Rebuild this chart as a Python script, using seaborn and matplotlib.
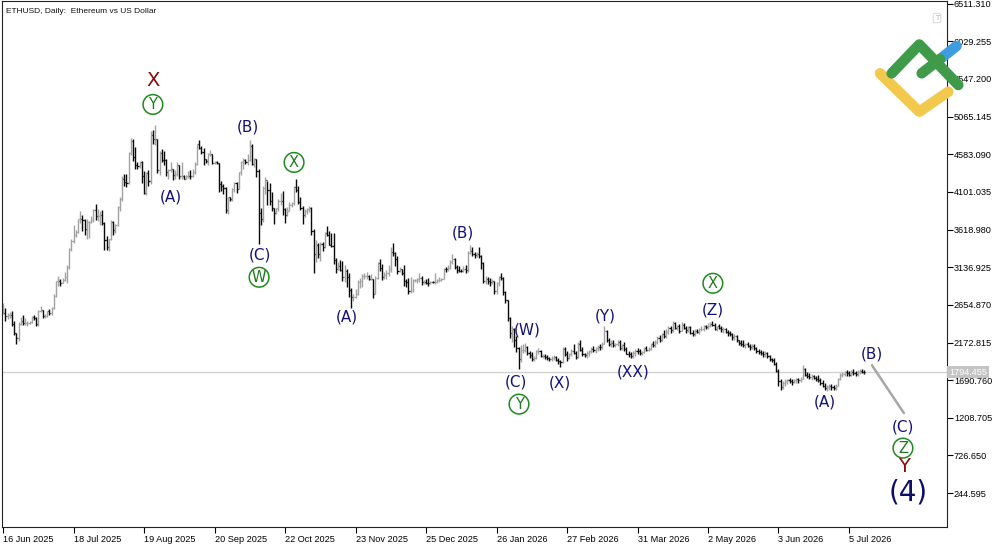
import numpy as np
import pandas as pd
import matplotlib
matplotlib.use("Agg")
import matplotlib.pyplot as plt
import matplotlib.dates as mdates
import matplotlib.transforms as mtransforms
import seaborn as sns

# ---------------- data (daily OHLC of ETHUSD) ----------------
start_date = "2025-06-16"
first_open = 2545

high = [
    2680, 2610, 2545, 2560, 2580, 2450, 2300, 2440, 2500, 2520, 2490, 2450, 2450, 2510, 2525,  # Jun 2025
    2495, 2590, 2640, 2595, 2540, 2580, 2600, 2630, 2790, 2960, 3020, 2980, 3000, 3080, 3160, 3380, 3500, 3680, 3610, 3760, 3860, 3800, 3760, 3760, 3730, 3790, 3880, 3940, 3880, 3860, 3870,  # Jul
    3720, 3530, 3500, 3740, 3730, 3690, 3920, 4030, 4300, 4330, 4330, 4610, 4790, 4780, 4680, 4480, 4500, 4490, 4370, 4350, 4380, 4880, 4890, 4955, 4780, 4620, 4650, 4630, 4520, 4390, 4480,  # Aug
    4400, 4380, 4480, 4450, 4480, 4320, 4320, 4370, 4380, 4400, 4480, 4720, 4770, 4690, 4660, 4520, 4600, 4640, 4590, 4490, 4490, 4470, 4240, 4200, 4160, 4040, 4030, 4150, 4230, 4230,  # Sep
    4360, 4500, 4540, 4520, 4590, 4760, 4720, 4530, 4520, 4390, 3900, 4180, 4290, 4240, 4210, 4100, 3900, 3900, 4010, 4090, 4110, 3900, 3910, 3970, 3970, 4170, 4270, 4180, 4040, 3920, 3880,  # Oct
    3890, 3920, 3910, 3620, 3480, 3450, 3460, 3460, 3590, 3660, 3600, 3570, 3570, 3260, 3200, 3230, 3220, 3160, 3110, 3060, 2870, 2790, 2860, 2970, 3000, 3050, 3060, 3070, 3040, 3050,  # Nov
    2990, 3020, 3200, 3240, 3180, 3070, 3100, 3160, 3400, 3450, 3330, 3280, 3140, 3120, 3170, 2990, 3000, 3010, 2990, 2990, 3000, 3060, 3020, 2970, 2980, 3000, 2960, 2960, 3060, 2990, 3010,  # Dec
    3000, 3130, 3140, 3160, 3230, 3300, 3250, 3160, 3150, 3110, 3150, 3160, 3340, 3420, 3400, 3330, 3330, 3400, 3290, 3200, 3030, 3010, 3000, 2980, 2960, 2950, 3030, 3060, 3010, 2830, 2720,  # Jan 2026
    2500, 2380, 2360, 2250, 2120, 2140, 2160, 2170, 2130, 2060, 2050, 2000, 2080, 2100, 2080, 2030, 2030, 2010, 1990, 2000, 2010, 2000, 1970, 1950, 2120, 2110, 2060, 2040,  # Feb
    2090, 2150, 2060, 2180, 2210, 2110, 2040, 2060, 2080, 2110, 2130, 2110, 2140, 2150, 2180, 2390, 2330, 2230, 2200, 2200, 2170, 2200, 2200, 2160, 2180, 2110, 2060, 2050, 2060, 2090, 2100,  # Mar
    2090, 2070, 2120, 2130, 2110, 2170, 2190, 2200, 2260, 2270, 2300, 2330, 2340, 2390, 2380, 2450, 2440, 2400, 2410, 2430, 2420, 2380, 2390, 2380, 2330, 2340, 2350, 2360, 2380, 2400,  # Apr
    2400, 2420, 2430, 2450, 2420, 2390, 2410, 2380, 2370, 2360, 2330, 2320, 2300, 2280, 2270, 2210, 2200, 2200, 2170, 2180, 2160, 2150, 2150, 2110, 2090, 2080, 2070, 2060, 2050, 2010, 1980,  # May
    1970, 1920, 1830, 1700, 1680, 1700, 1710, 1720, 1700, 1710, 1720, 1720, 1730, 1880, 1850, 1790, 1780, 1770, 1760, 1750, 1760, 1720, 1690, 1650, 1630, 1640, 1640, 1630, 1640, 1720,  # Jun
    1780, 1800, 1810, 1820, 1810, 1820, 1830, 1810, 1820, 1840, 1830, 1820,  # Jul
]
low = [
    2540, 2450, 2470, 2490, 2380, 2270, 2150, 2190, 2400, 2400, 2400, 2380, 2410, 2420, 2460,
    2380, 2390, 2560, 2490, 2490, 2500, 2520, 2520, 2600, 2760, 2900, 2900, 2930, 2960, 2940, 3120, 3340, 3450, 3520, 3570, 3700, 3600, 3550, 3500, 3510, 3700, 3720, 3740, 3730, 3680, 3680,
    3360, 3360, 3350, 3490, 3550, 3580, 3660, 3850, 3990, 4180, 4160, 4200, 4570, 4500, 4390, 4400, 4410, 4220, 4080, 4060, 4180, 4200, 4720, 4700, 4340, 4320, 4480, 4440, 4300, 4260, 4360,
    4250, 4260, 4300, 4260, 4270, 4260, 4260, 4280, 4270, 4290, 4330, 4440, 4650, 4590, 4450, 4470, 4440, 4560, 4460, 4460, 4460, 4100, 4110, 4080, 3830, 3820, 3980, 3990, 4100, 4090,
    4140, 4320, 4400, 4460, 4450, 4500, 4440, 4420, 4290, 3440, 3680, 3710, 4080, 3930, 3930, 3850, 3690, 3820, 3860, 3930, 3800, 3700, 3790, 3850, 3910, 3930, 4100, 3940, 3870, 3690, 3780,
    3820, 3840, 3550, 3060, 3200, 3250, 3220, 3340, 3380, 3530, 3420, 3390, 3180, 3060, 3100, 3090, 2960, 2950, 2880, 2760, 2620, 2700, 2740, 2780, 2870, 2880, 2990, 2990, 2970, 2970,
    2740, 2790, 2990, 3090, 2970, 2990, 2990, 3030, 3080, 3280, 3150, 3050, 3080, 3040, 2900, 2880, 2800, 2810, 2820, 2950, 2940, 2950, 2910, 2920, 2920, 2890, 2920, 2930, 2920, 2930, 2950,
    2960, 2980, 3080, 3090, 3110, 3180, 3120, 3060, 3070, 3070, 3070, 3060, 3080, 3300, 3280, 3250, 3270, 3250, 3120, 2940, 2920, 2920, 2900, 2920, 2800, 2800, 2900, 2970, 2780, 2680, 2450,
    2230, 2180, 2110, 2050, 1840, 1920, 2040, 2050, 2010, 1980, 1940, 1930, 1960, 2020, 1990, 1970, 1960, 1950, 1930, 1940, 1950, 1930, 1900, 1860, 1910, 2000, 1940, 1960,
    2000, 2020, 1960, 1980, 2060, 2000, 1990, 1980, 2000, 2040, 2050, 2040, 2070, 2080, 2090, 2150, 2180, 2130, 2120, 2120, 2110, 2130, 2080, 2080, 2070, 2020, 1990, 1970, 1970, 2000, 2030,
    2010, 2010, 2040, 2060, 2060, 2080, 2110, 2120, 2150, 2180, 2190, 2230, 2230, 2280, 2300, 2310, 2340, 2330, 2300, 2320, 2340, 2300, 2310, 2280, 2250, 2260, 2290, 2280, 2320, 2320,
    2340, 2350, 2370, 2380, 2330, 2320, 2340, 2310, 2300, 2290, 2260, 2250, 2210, 2200, 2180, 2140, 2130, 2120, 2100, 2110, 2080, 2090, 2080, 2040, 2020, 2010, 1990, 1990, 1970, 1930, 1920,
    1880, 1790, 1620, 1560, 1580, 1610, 1640, 1650, 1630, 1650, 1660, 1650, 1670, 1700, 1740, 1720, 1700, 1690, 1700, 1680, 1670, 1630, 1600, 1560, 1550, 1570, 1570, 1560, 1570, 1610,
    1690, 1730, 1740, 1750, 1740, 1750, 1760, 1740, 1750, 1770, 1780, 1770,
]
close = [
    2550, 2510, 2525, 2525, 2410, 2290, 2230, 2415, 2450, 2420, 2420, 2425, 2435, 2505, 2485,
    2405, 2570, 2590, 2510, 2515, 2570, 2545, 2615, 2770, 2955, 2960, 2940, 2970, 3010, 3140, 3370, 3475, 3550, 3590, 3755, 3760, 3745, 3630, 3710, 3720, 3745, 3870, 3795, 3795, 3810, 3700,
    3480, 3390, 3495, 3720, 3610, 3680, 3910, 4010, 4260, 4230, 4220, 4600, 4750, 4550, 4440, 4430, 4480, 4310, 4090, 4340, 4240, 4830, 4780, 4780, 4380, 4600, 4510, 4505, 4360, 4375, 4395,
    4320, 4330, 4450, 4300, 4310, 4270, 4300, 4310, 4300, 4350, 4460, 4710, 4665, 4610, 4520, 4500, 4590, 4590, 4470, 4480, 4470, 4200, 4170, 4150, 3870, 4030, 4010, 4140, 4210, 4140,
    4350, 4480, 4510, 4480, 4510, 4690, 4460, 4520, 4370, 3830, 3750, 4150, 4250, 4130, 3990, 3890, 3830, 3890, 3980, 3980, 3880, 3810, 3860, 3930, 3955, 4160, 4120, 3970, 3900, 3800, 3850,
    3880, 3900, 3600, 3300, 3420, 3310, 3440, 3400, 3570, 3550, 3420, 3410, 3230, 3110, 3150, 3100, 3010, 3090, 3010, 2840, 2750, 2760, 2800, 2950, 2960, 3020, 3030, 3030, 2990, 2990,
    2800, 3000, 3190, 3130, 3010, 3040, 3060, 3120, 3330, 3320, 3240, 3090, 3110, 3060, 2960, 2950, 2830, 2840, 2970, 2975, 2980, 3000, 2950, 2950, 2940, 2930, 2950, 2945, 2950, 2970, 2970,
    2990, 3120, 3110, 3130, 3200, 3240, 3140, 3100, 3090, 3085, 3120, 3100, 3320, 3350, 3310, 3290, 3310, 3280, 3190, 2960, 2990, 2960, 2950, 2960, 2830, 2930, 3010, 3000, 2820, 2720, 2490,
    2290, 2350, 2210, 2100, 1960, 2080, 2080, 2110, 2040, 2010, 1960, 1970, 2060, 2070, 2000, 2000, 1990, 1970, 1960, 1980, 1990, 1950, 1930, 1920, 2090, 2020, 1970, 2030,
    2070, 2040, 1990, 2160, 2080, 2020, 2010, 2040, 2060, 2090, 2080, 2100, 2120, 2110, 2160, 2320, 2210, 2150, 2170, 2140, 2150, 2180, 2100, 2140, 2090, 2030, 2020, 2000, 2040, 2070, 2060,
    2040, 2050, 2100, 2080, 2090, 2150, 2140, 2180, 2230, 2200, 2280, 2260, 2310, 2360, 2330, 2420, 2360, 2380, 2320, 2400, 2360, 2330, 2370, 2300, 2280, 2320, 2310, 2340, 2350, 2380,
    2370, 2390, 2410, 2400, 2350, 2380, 2360, 2340, 2350, 2310, 2290, 2280, 2240, 2260, 2200, 2170, 2160, 2140, 2150, 2130, 2110, 2130, 2100, 2060, 2050, 2040, 2020, 2040, 2000, 1960, 1950,
    1900, 1810, 1680, 1600, 1650, 1680, 1690, 1680, 1670, 1690, 1700, 1690, 1710, 1840, 1760, 1750, 1730, 1750, 1720, 1700, 1690, 1660, 1620, 1590, 1600, 1610, 1600, 1590, 1620, 1700,
    1760, 1770, 1790, 1780, 1760, 1800, 1780, 1770, 1790, 1810, 1800, 1794,
]

current_price = 1794.455
price_ticks = [244.595, 726.650, 1208.705, 1690.760, 2172.815, 2654.870, 3136.925,
               3618.980, 4101.035, 4583.090, 5065.145, 5547.200, 6029.255, 6511.310]
date_tick_values = ["2025-06-16", "2025-07-18", "2025-08-19", "2025-09-20", "2025-10-22",
                    "2025-11-23", "2025-12-25", "2026-01-26", "2026-02-27", "2026-03-31",
                    "2026-05-02", "2026-06-03", "2026-07-05"]
date_tick_labels = ["16 Jun 2025", "18 Jul 2025", "19 Aug 2025", "20 Sep 2025", "22 Oct 2025",
                    "23 Nov 2025", "25 Dec 2025", "26 Jan 2026", "27 Feb 2026", "31 Mar 2026",
                    "2 May 2026", "3 Jun 2026", "5 Jul 2026"]

# projected leg (B) -> (C)
forecast_dates = ["2026-07-15 10:00", "2026-07-29 22:00"]
forecast_prices = [1882, 1269]

# wave labels: text, kind, date, price
wave_labels = [
    ("X", "major", "2025-08-23 00:00", 5527),
    ("Y", "circle", "2025-08-23 00:00", 5220),
    ("(A)", "minor", "2025-08-31 05:00", 4030),
    ("(B)", "minor", "2025-10-05 05:00", 4926),
    ("X", "circle", "2025-10-26 02:00", 4478),
    ("(C)", "minor", "2025-10-10 14:00", 3289),
    ("W", "circle", "2025-10-10 05:00", 3008),
    ("(A)", "minor", "2025-11-19 02:00", 2496),
    ("(B)", "minor", "2026-01-10 19:00", 3570),
    ("(W)", "minor", "2026-02-08 19:00", 2330),
    ("(C)", "minor", "2026-02-03 19:00", 1665),
    ("Y", "circle", "2026-02-05 05:00", 1384),
    ("(X)", "minor", "2026-02-23 19:00", 1652),
    ("(Y)", "minor", "2026-03-16 05:00", 2509),
    ("(XX)", "minor", "2026-03-29 00:00", 1793),
    ("X", "circle", "2026-05-04 05:00", 2931),
    ("(Z)", "minor", "2026-05-04 05:00", 2586),
    ("(B)", "minor", "2026-07-15 10:00", 2023),
    ("(A)", "minor", "2026-06-24 02:00", 1409),
    ("(C)", "minor", "2026-07-29 12:00", 1089),
    ("Z", "circle", "2026-07-29 12:00", 821),
    ("Y", "major", "2026-07-30 00:00", 590),
    ("(4)", "big", "2026-07-31 19:00", 258),
]

# ---------------- figure ----------------
sns.set_style("white")
plt.rcParams["font.family"] = ["DejaVu Sans"]
tick_font = ["Liberation Sans", "DejaVu Sans"]

fig = plt.figure(figsize=(10, 5.45), dpi=100)
ax = fig.add_axes([0.002, 0.033, 0.945, 0.966])

n = min(len(high), len(low), len(close))
dates = pd.date_range(start_date, periods=n, freq="D")
x = mdates.date2num(dates.to_pydatetime())
h = np.array(high[:n], float)
l = np.array(low[:n], float)
c = np.array(close[:n], float)
o = np.concatenate([[first_open], c[:-1]])

up_col, dn_col = "#a2a2a2", "#0a0a0a"
for mask, col in ((c >= o, up_col), (c < o, dn_col)):
    ax.vlines(x[mask], l[mask], h[mask], color=col, lw=1.0)
    ax.hlines(o[mask], x[mask] - 0.5, x[mask], color=col, lw=0.9)
    ax.hlines(c[mask], x[mask], x[mask] + 0.5, color=col, lw=0.9)

# current price line
ax.axhline(current_price, color="#cfcfcf", lw=0.9, zorder=0)

# forecast leg
fc = pd.DataFrame({"date": pd.to_datetime(forecast_dates), "price": forecast_prices})
sns.lineplot(data=fc, x="date", y="price", ax=ax, color="#a6a6a6", lw=1.8, legend=False)

# wave labels
for text, kind, d, p in wave_labels:
    xd = mdates.date2num(pd.Timestamp(d).to_pydatetime())
    if kind == "minor":
        ax.text(xd, p, text, ha="center", va="center", fontsize=11, color="#12127a")
    elif kind == "circle":
        ax.text(xd, p, text, ha="center", va="center", fontsize=10.5, color="#1f7a1f",
                bbox=dict(boxstyle="circle,pad=0.16", fc="none", ec="#1f8a1f", lw=1.1))
    elif kind == "major":
        ax.text(xd, p, text, ha="center", va="center", fontsize=14, color="#8b0a0a")
    else:
        ax.text(xd, p, text, ha="center", va="center", fontsize=20, color="#0e0e66")

# axes limits
d0 = mdates.date2num(pd.Timestamp(start_date).to_pydatetime())
ax.set_xlim(d0 - 0.5, d0 + 428.5)
ax.set_ylim(-189, 6550)

# ticks
ax.yaxis.tick_right()
ax.set_yticks(price_ticks)
ax.set_yticklabels([f"{v:.3f}" for v in price_ticks], fontsize=6.6, family=tick_font)
ax.set_xticks([mdates.date2num(pd.Timestamp(v).to_pydatetime()) for v in date_tick_values])
ax.set_xticklabels(date_tick_labels, fontsize=6.6, ha="left", family=tick_font)
ax.tick_params(axis="y", which="both", right=True, left=False, length=4, width=0.8,
               direction="out", pad=1, colors="#000000")
ax.tick_params(axis="x", which="both", bottom=True, length=4, width=0.8,
               direction="out", pad=1.5, colors="#000000")
ax.set_xlabel("")
ax.set_ylabel("")
for s in ax.spines.values():
    s.set_visible(True)
    s.set_color("#222222")
    s.set_linewidth(0.8)

# current price tag on the axis
trans = mtransforms.blended_transform_factory(ax.transAxes, ax.transData)
ax.text(1.002, current_price, f"{current_price:.3f}", transform=trans, ha="left", va="center",
        fontsize=6.6, color="white", clip_on=False, family=tick_font,
        bbox=dict(boxstyle="square,pad=0.2", fc="#c4c4c4", ec="none"))

# title
ax.text(0.004, 0.985, "ETHUSD, Daily:  Ethereum vs US Dollar", transform=ax.transAxes,
        ha="left", va="top", fontsize=6, color="#111111", family=tick_font)

# overlay for logo (pixel coordinates)
ov = fig.add_axes([0, 0, 1, 1], zorder=5)
ov.set_xlim(0, 1000)
ov.set_ylim(545, 0)
ov.axis("off")
ov.patch.set_alpha(0)
lw_logo = 7.6
ov.plot([880, 919.3, 948.3], [73.3, 111.7, 91.7], color="#f2c94c", lw=lw_logo,
        solid_capstyle="round", solid_joinstyle="round")
ov.plot([939, 956.5], [60, 46], color="#3e9de0", lw=lw_logo, solid_capstyle="round")
ov.plot([921.7, 940], [73.3, 59], color="#3f9a4a", lw=lw_logo, solid_capstyle="round")
ov.plot([891.7, 919.3, 958.3], [73.3, 44.5, 85], color="#3f9a4a", lw=lw_logo,
        solid_capstyle="round", solid_joinstyle="round")
# small "T" button
ov.text(937, 18, "T", ha="center", va="center", fontsize=5, color="#b0b0b0",
        bbox=dict(boxstyle="round,pad=0.25", fc="white", ec="#d0d0d0", lw=0.6))

fig.savefig("out.png", dpi=100)
